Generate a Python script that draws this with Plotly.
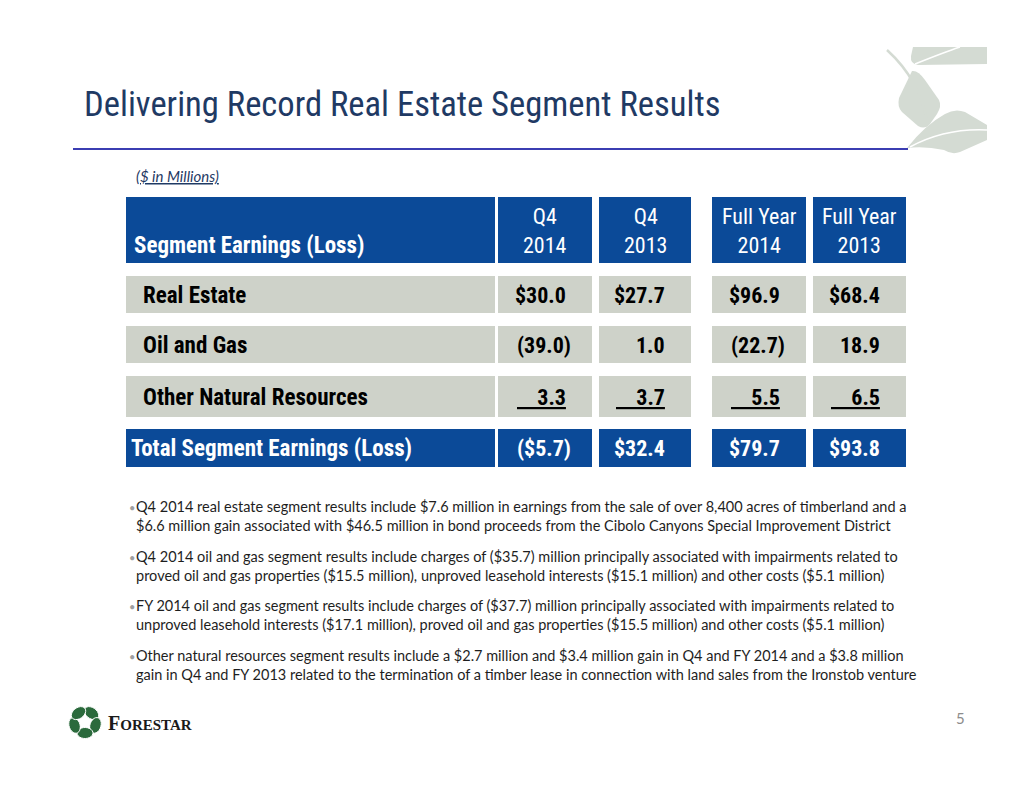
import numpy as np
import plotly.graph_objects as go

# Table content ($ in millions)
segments = ["Real Estate", "Oil and Gas", "Other Natural Resources"]
total_label = "Total Segment Earnings (Loss)"
header_label = "Segment Earnings (Loss)"
period_labels = ["Q4<br>2014", "Q4<br>2013", "Full Year<br>2014", "Full Year<br>2013"]
q4_2014 = [30.0, -39.0, 3.3]
q4_2013 = [27.7, 1.0, 3.7]
fy_2014 = [96.9, -22.7, 5.5]
fy_2013 = [68.4, 18.9, 6.5]

notes = [
    "Q4 2014 real estate segment results include $7.6 million in earnings from the sale of over 8,400 acres of timberland and a<br>"
    "$6.6 million gain associated with $46.5 million in bond proceeds from the Cibolo Canyons Special Improvement District",
    "Q4 2014 oil and gas segment results include charges of ($35.7) million principally associated with impairments related to<br>"
    "proved oil and gas properties ($15.5 million), unproved leasehold interests ($15.1 million) and other costs ($5.1 million)",
    "FY 2014 oil and gas segment results include charges of ($37.7) million principally associated with impairments related to<br>"
    "unproved leasehold interests ($17.1 million), proved oil and gas properties ($15.5 million) and other costs ($5.1 million)",
    "Other natural resources segment results include a $2.7 million and $3.4 million gain in Q4 and FY 2014 and a $3.8 million<br>"
    "gain in Q4 and FY 2013 related to the termination of a timber lease in connection with land sales from the Ironstob venture",
]

title = "Delivering Record Real Estate Segment Results"
units = "($ in Millions)"
page_no = "5"

# styling
NARROW = "Roboto Condensed, Arial Narrow, sans-serif"
BODY = "Lato, Calibri, Open Sans, sans-serif"
BLUE = "#0B4A98"
GREY = "#CED2C9"
NAVY = "#1F3A64"
W, H = 1034, 799
OFF = 8  # page body margin

label_x = (126, 495)
col_x = [(498, 592), (599, 691), (712, 806), (813, 906)]
header_y = (197, 263)
row_y = [(276, 313), (326, 363), (376, 417)]
total_y = (429, 467)


def fmt(v, dollar=False):
    s = f"{abs(v):.1f}"
    if dollar:
        s = "$" + s
    if v < 0:
        s = f"({s})"
    return s


columns = [q4_2014, q4_2013, fy_2014, fy_2013]
totals = [round(sum(c), 1) for c in columns]

fig = go.Figure()
shapes = []
ann = []


def cell(x0, x1, y0, y1, color):
    shapes.append(dict(type="rect", xref="x", yref="y", x0=x0, x1=x1, y0=y0, y1=y1,
                       fillcolor=color, line=dict(width=0), layer="below"))


# header row
cell(*label_x, *header_y, BLUE)
ann.append(dict(x=label_x[0] + 6, y=header_y[1] - 18, text=f"<b>{header_label}</b>",
                xanchor="left", yanchor="middle",
                font=dict(family=NARROW, size=23, color="white")))
for (x0, x1), lab in zip(col_x, period_labels):
    cell(x0, x1, *header_y, BLUE)
    ann.append(dict(x=(x0 + x1) / 2, y=(header_y[0] + header_y[1]) / 2 + 1, text=lab,
                    xanchor="center", yanchor="middle", align="center",
                    font=dict(family=NARROW, size=22, color="white")))

# segment rows
for i, seg in enumerate(segments):
    y0, y1 = row_y[i]
    cell(*label_x, y0, y1, GREY)
    ann.append(dict(x=label_x[0] + 15, y=(y0 + y1) / 2 + 1, text=f"<b>{seg}</b>",
                    xanchor="left", yanchor="middle",
                    font=dict(family=NARROW, size=23, color="black")))
    for (x0, x1), col in zip(col_x, columns):
        cell(x0, x1, y0, y1, GREY)
        v = col[i]
        txt = fmt(v, dollar=(i == 0))
        xr = x1 - 24 + (5 if v < 0 else 0)
        if i == len(segments) - 1:
            txt = f"<span style='text-decoration:underline'>\u00a0\u00a0\u00a0\u00a0{txt}</span>"
        ann.append(dict(x=xr, y=(y0 + y1) / 2 + 1, text=f"<b>{txt}</b>",
                        xanchor="right", yanchor="middle",
                        font=dict(family=NARROW, size=22, color="black")))

# total row
cell(*label_x, *total_y, BLUE)
ann.append(dict(x=label_x[0] + 3, y=(total_y[0] + total_y[1]) / 2, text=f"<b>{total_label}</b>",
                xanchor="left", yanchor="middle",
                font=dict(family=NARROW, size=23, color="white")))
for (x0, x1), v in zip(col_x, totals):
    cell(x0, x1, *total_y, BLUE)
    ann.append(dict(x=x1 - 24 + (5 if v < 0 else 0), y=(total_y[0] + total_y[1]) / 2,
                    text=f"<b>{fmt(v, dollar=True)}</b>",
                    xanchor="right", yanchor="middle",
                    font=dict(family=NARROW, size=22, color="white")))

# title, rule, units
ann.append(dict(x=82, y=104, text=title, xanchor="left", yanchor="middle",
                font=dict(family=NARROW, size=34.6, color=NAVY)))
shapes.append(dict(type="line", xref="x", yref="y", x0=73, x1=908, y0=149, y1=149,
                   line=dict(color="#3B3DB2", width=2)))
ann.append(dict(x=134, y=176, text=f"<span style='text-decoration:underline'><i>{units}</i></span>",
                xanchor="left", yanchor="middle",
                font=dict(family=BODY, size=15, color=NAVY)))

# bullet notes
note_y = [516, 566, 615, 665]
for y, note in zip(note_y, notes):
    ann.append(dict(x=127, y=y - 9, text="\u2022", xanchor="left", yanchor="middle",
                    font=dict(family=BODY, size=11, color="#A0A0A0")))
    ann.append(dict(x=134, y=y, text=note, xanchor="left", yanchor="middle", align="left",
                    font=dict(family=BODY, size=14.5, color="#1E1E1E")))

# page number
ann.append(dict(x=960, y=718, text=page_no, xanchor="center", yanchor="middle",
                font=dict(family=BODY, size=15, color="#8C8C8C")))

# decorative leaves (top right)
LEAF = "#D4DBD3"
shapes += [
    dict(type="path", xref="x", yref="y", fillcolor=LEAF, line=dict(width=0),
         path="M 913 47 L 987 47 L 987 64 L 918 65 Q 910 64 911 56 Z"),
    dict(type="path", xref="x", yref="y", fillcolor=LEAF, line=dict(width=0),
         path="M 912 71 Q 918 70 925 80 L 939 100 Q 942 106 937 114 L 930 124 Q 925 130 918 126 "
              "L 902 112 Q 897 107 899 98 Z"),
    dict(type="path", xref="x", yref="y", fillcolor=LEAF, line=dict(width=0),
         path="M 907 148 Q 925 125 945 114 Q 955 108 965 112 L 987 125 L 987 140 L 960 152 "
              "Q 952 155 944 150 Q 925 146 907 148 Z"),
    dict(type="path", xref="x", yref="y", line=dict(color=LEAF, width=2.5),
         path="M 887 50 Q 920 80 927 122"),
    dict(type="path", xref="x", yref="y", line=dict(color="white", width=1.5),
         path="M 915 64 Q 945 52 960 47"),
    dict(type="path", xref="x", yref="y", line=dict(color="white", width=1.5),
         path="M 910 147 Q 945 128 987 130"),
]

# Forestar logo (bottom left)
GREEN = "#2B6A3C"
cx, cy = 85, 722
for k in range(5):
    a = np.deg2rad(-90 + 72 * k + 36)
    t = np.linspace(0, 2 * np.pi, 24)
    ex, ey = 8 * np.cos(t), 5.5 * np.sin(t)
    rot = a + np.pi / 2
    px = cx + 11 * np.cos(a) + ex * np.cos(rot) - ey * np.sin(rot)
    py = cy + 11 * np.sin(a) + ex * np.sin(rot) + ey * np.cos(rot)
    path = "M " + " L ".join(f"{x:.1f} {y:.1f}" for x, y in zip(px, py)) + " Z"
    shapes.append(dict(type="path", xref="x", yref="y", path=path, fillcolor=GREEN,
                       line=dict(color="white", width=1)))
star_r = np.array([9 if j % 2 == 0 else 4 for j in range(10)])
star_a = np.deg2rad(-90 + 36 * np.arange(10))
sp = "M " + " L ".join(f"{cx + r * np.cos(a):.1f} {cy + r * np.sin(a):.1f}" for r, a in zip(star_r, star_a)) + " Z"
shapes.append(dict(type="path", xref="x", yref="y", path=sp, fillcolor="white", line=dict(width=0)))
ann.append(dict(x=106, y=723, text="<span style='font-size:20px'>F</span>ORESTAR",
                xanchor="left", yanchor="middle",
                font=dict(family="Liberation Serif, serif", size=15, color="#1A1A1A", weight="bold")))

fig.update_layout(
    width=W, height=H, margin=dict(l=0, r=0, t=0, b=0),
    paper_bgcolor="white", plot_bgcolor="white",
    xaxis=dict(range=[OFF, W + OFF], visible=False, fixedrange=True),
    yaxis=dict(range=[H + OFF, OFF], visible=False, fixedrange=True),
    shapes=shapes, annotations=[dict(showarrow=False, xref="x", yref="y", **a) for a in ann],
    showlegend=False,
)

fig.write_html("out.html")
